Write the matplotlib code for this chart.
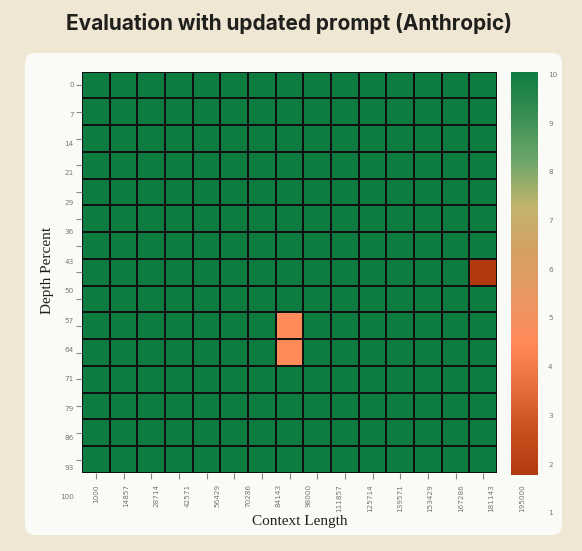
import numpy as np
import matplotlib
matplotlib.use("Agg")
import matplotlib.pyplot as plt
from matplotlib.colors import LinearSegmentedColormap
from matplotlib.patches import FancyBboxPatch

# Data: scores per (depth, context length) cell
context_lengths = [1000, 14857, 28714, 42571, 56429, 70286, 84143, 98000,
                   111857, 125714, 139571, 153429, 167286, 181143, 195000]
depth_percents = [0, 7, 14, 21, 29, 36, 43, 50, 57, 64, 71, 79, 86, 93, 100]

scores = np.full((len(depth_percents), len(context_lengths)), 10.0)
# the few failed cells (row = depth index, col = context index)
fail_rows = [7, 9, 10]
fail_cols = [14, 7, 7]
fail_scores = [1, 4, 4]
for r, c, s in zip(fail_rows, fail_cols, fail_scores):
    scores[r, c] = s

cbar_ticks = [1, 2, 3, 4, 5, 6, 7, 8, 9, 10]

# Colours
bg = "#EFE6D4"
card = "#FAFAF7"
tick_col = "#777777"
cmap = LinearSegmentedColormap.from_list("anth", [
    (0.0, "#B23A0E"), (1 / 9, "#C8501F"), (2 / 9, "#E8703F"),
    (3 / 9, "#FF8A5A"), (4 / 9, "#E99862"),
    (5 / 9, "#D4A062"), (6 / 9, "#C2B46C"), (7 / 9, "#6FA66A"),
    (8 / 9, "#3A8F55"), (1.0, "#0E7C41")])

fig = plt.figure(figsize=(5.82, 5.51), dpi=100)
fig.patch.set_facecolor(bg)

# white rounded card behind the chart
W, H = 582, 551
card_box = FancyBboxPatch((25 / W, 1 - 535 / H), (562 - 25) / W, (535 - 53) / H,
                          boxstyle="round,pad=0,rounding_size=0.018",
                          transform=fig.transFigure, facecolor=card,
                          edgecolor="none", zorder=-5)
fig.patches.append(card_box)

fig.text(0.497, 1 - 23 / H, "Evaluation with updated prompt (Anthropic)",
         ha="center", va="center", fontsize=15, fontweight="bold",
         family="Inter", color="#1F1F1C")

ax = fig.add_axes([82 / W, 1 - 473 / H, (497 - 82) / W, (473 - 71.7) / H])
ax.set_zorder(2)
ax.set_facecolor(card)
nx, ny = len(context_lengths), len(depth_percents)
mesh = ax.pcolormesh(np.arange(nx + 1) - 0.5, np.arange(ny + 1) - 0.5, scores,
                     cmap=cmap, vmin=1, vmax=10, edgecolors="#111111",
                     linewidth=1.2)
ax.set_xlim(-0.5, nx - 0.5)
ax.set_ylim(ny - 0.5, -0.5)
for s in ax.spines.values():
    s.set_visible(False)

ax.set_xticks(np.arange(nx))
ax.set_yticks(np.arange(ny))
ax.set_xticklabels([])
ax.set_yticklabels([])
ax.tick_params(length=4, width=0.8, color="#888888")

# tick labels sit on a slightly stretched grid, as in the original picture
stretch = 1.1
for i, lab in enumerate(context_lengths):
    ax.annotate(str(lab), xy=(stretch * i, 0), xycoords=("data", "axes fraction"),
                xytext=(0, -8), textcoords="offset points", rotation=90,
                ha="center", va="top", fontsize=5.2, color=tick_col,
                annotation_clip=False)
for i, lab in enumerate(depth_percents):
    ax.annotate(str(lab), xy=(0, stretch * i), xycoords=("axes fraction", "data"),
                xytext=(-6, 0), textcoords="offset points",
                ha="right", va="center", fontsize=5.2, color=tick_col,
                annotation_clip=False)

fig.text(300 / W, 1 - 521 / H, "Context Length", ha="center", va="center",
         fontsize=11, family="Liberation Serif", color="#1F1F1C")
fig.text(47 / W, 1 - 270 / H, "Depth Percent", ha="center", va="center",
         rotation=90, fontsize=11, family="Liberation Serif", color="#1F1F1C")

# colour bar
cax = fig.add_axes([510.5 / W, 1 - 475 / H, (538.3 - 510.5) / W, (475 - 71.7) / H])
cax.set_zorder(2)
cb = fig.colorbar(mesh, cax=cax)
cb.outline.set_visible(False)
cb.set_ticks([])
for v in cbar_ticks:
    cax.annotate(str(v), xy=(1, 10 - 0.07 - 1.087 * (10 - v)),
                 xycoords=("axes fraction", "data"), xytext=(7, 0),
                 textcoords="offset points", ha="left", va="center",
                 fontsize=5.2, color=tick_col, annotation_clip=False)

fig.savefig("out.png", dpi=100, facecolor=bg)
